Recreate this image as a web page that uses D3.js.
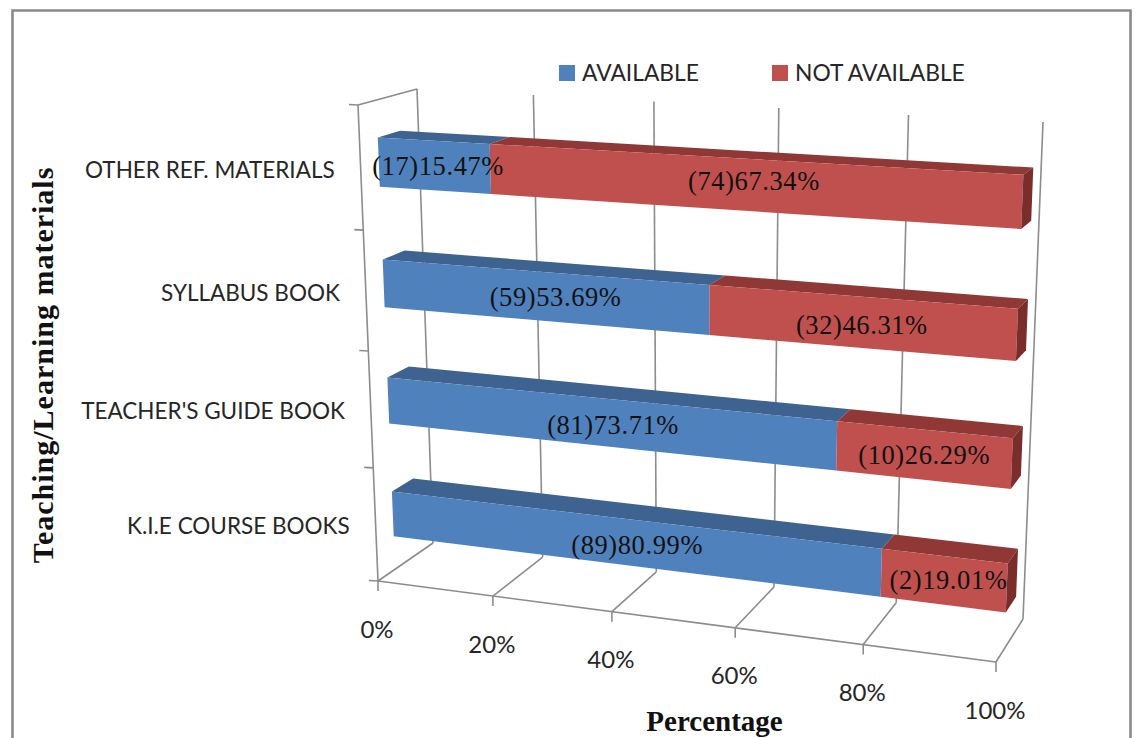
<!DOCTYPE html>
<html>
<head>
<meta charset="utf-8">
<script src="https://cdnjs.cloudflare.com/ajax/libs/d3/7.8.5/d3.min.js"></script>
<style>
  html, body { margin: 0; padding: 0; background: #fff; overflow: hidden; }
  svg { display: block; }
</style>
</head>
<body>
<script>
// Availability of teaching and learning materials, drawn as a 3-D 100% stacked bar chart.
const categories = ["OTHER REF. MATERIALS", "SYLLABUS BOOK", "TEACHER'S GUIDE BOOK", "K.I.E COURSE BOOKS"];
const seriesNames = ["AVAILABLE", "NOT AVAILABLE"];
const availablePct = [15.47, 53.69, 73.71, 80.99];
const notAvailablePct = [67.34, 46.31, 26.29, 19.01];
const availableCount = [17, 59, 81, 89];
const notAvailableCount = [74, 32, 10, 2];
const percentTicks = [0, 20, 40, 60, 80, 100];

const W = 1136, H = 738;
const svg = d3.select("body").append("svg").attr("width", W).attr("height", H);

const colors = {
  front: ["#4f81bd", "#c0504d"],
  top: ["#3e6390", "#8f3836"],
  end: ["#335477", "#7a2e2c"],
  grid: "#8c8c8c",
  text: "#262626"
};

// Corners of the plot cube on screen: [percent side][height][depth]
const cube = {
  l: { b: { f: [378, 581], k: [433, 543] }, t: { f: [358, 105], k: [417, 89] } },
  r: { b: { f: [996, 662], k: [1023, 619] }, t: { f: [1017, 139], k: [1043, 122] } }
};
const mix = (a, b, t) => [a[0] + (b[0] - a[0]) * t, a[1] + (b[1] - a[1]) * t];
// Foreshortening: equal steps shrink toward the viewer's far side
const foreshorten = (t, k) => t / (t + k * (1 - t));

const xScale = d3.scaleLinear().domain([0, 100]).range([0, 1]);
const yBand = d3.scaleBand().domain(categories).range([1, 0]).paddingInner(0.6).paddingOuter(0.3);
const depthFront = 0.31, depthBack = 0.69;

function project(pct, t, d) {
  const u = foreshorten(xScale(pct), 1.095);
  const v = foreshorten(t, 1.07);
  const left = mix(mix(cube.l.b.f, cube.l.b.k, d), mix(cube.l.t.f, cube.l.t.k, d), v);
  const right = mix(mix(cube.r.b.f, cube.r.b.k, d), mix(cube.r.t.f, cube.r.t.k, d), v);
  return mix(left, right, u);
}

const poly = pts => "M" + pts.map(p => p[0].toFixed(1) + "," + p[1].toFixed(1)).join("L") + "Z";
const seg = (a, b) => "M" + a[0].toFixed(1) + "," + a[1].toFixed(1) + "L" + b[0].toFixed(1) + "," + b[1].toFixed(1);

// Outer frame, open at the lower edge of the page
svg.append("path")
  .attr("d", `M12.5,${H}L12.5,10.5L1130.5,10.5L1130.5,${H}`)
  .attr("fill", "none").attr("stroke", "#8a8a8a").attr("stroke-width", 2.6);

// Walls and floor
const wall = svg.append("g").attr("fill", "none").attr("stroke", colors.grid).attr("stroke-width", 1.6);
percentTicks.forEach(p => {
  wall.append("path").attr("d", seg(project(p, 0, 1), project(p, 1, 1)));
  wall.append("path").attr("d", seg(project(p, 0, 0), project(p, 0, 1)));
  const f = project(p, 0, 0);
  wall.append("path").attr("d", seg(f, [f[0], f[1] + 10]));
});
wall.append("path").attr("d", seg(project(0, 0, 0), project(100, 0, 0)));
wall.append("path").attr("d", seg(project(0, 0, 0), project(0, 1, 0)));
wall.append("path").attr("d", seg(project(0, 1, 0), project(0, 1, 1)));
[0, 0.25, 0.5, 0.75, 1].forEach(t => {
  const p = project(0, t, 0);
  wall.append("path").attr("d", seg(p, [p[0] - 9, p[1] - 0.5]));
});

// Stacked bars, back row first so nearer rows overlap cleanly
const rows = categories.map((c, i) => {
  const total = availablePct[i] + notAvailablePct[i];
  const split = availablePct[i] / total * 100;
  return { c, i, t0: yBand(c), t1: yBand(c) + yBand.bandwidth(), spans: [[0, split], [split, 100]] };
});

const bars = svg.append("g");
rows.forEach(r => {
  r.spans.forEach((s, k) => {
    const g = bars.append("g");
    g.append("path").attr("fill", colors.top[k]).attr("d", poly([
      project(s[0], r.t1, depthFront), project(s[1], r.t1, depthFront),
      project(s[1], r.t1, depthBack), project(s[0], r.t1, depthBack)]));
    g.append("path").attr("fill", colors.front[k]).attr("d", poly([
      project(s[0], r.t0, depthFront), project(s[1], r.t0, depthFront),
      project(s[1], r.t1, depthFront), project(s[0], r.t1, depthFront)]));
    if (k === 1) {
      g.append("path").attr("fill", colors.end[k]).attr("d", poly([
        project(s[1], r.t0, depthFront), project(s[1], r.t0, depthBack),
        project(s[1], r.t1, depthBack), project(s[1], r.t1, depthFront)]));
    }
  });
});

// Count and percentage labels on the front faces
const labelNudge = [[[4, 0], [7.5, -4]], [[13, 1], [2, 3]], [[8, 2], [1, 0]], [[9, 3], [5, 0]]];
const labels = svg.append("g")
  .attr("font-family", "'Liberation Serif', serif").attr("font-size", 26.5).attr("letter-spacing", 0.6)
  .attr("fill", "#111").attr("text-anchor", "middle").attr("dominant-baseline", "central");
rows.forEach(r => {
  r.spans.forEach((s, k) => {
    const count = (k === 0 ? availableCount : notAvailableCount)[r.i];
    const pct = (k === 0 ? availablePct : notAvailablePct)[r.i];
    const m = project((s[0] + s[1]) / 2, (r.t0 + r.t1) / 2, depthFront);
    labels.append("text")
      .attr("x", m[0] + labelNudge[r.i][k][0]).attr("y", m[1] + labelNudge[r.i][k][1])
      .text(`(${count})${pct.toFixed(2)}%`);
  });
});

// Category labels beside the front wall
const catLabels = svg.append("g")
  .attr("font-family", "Lato, sans-serif").attr("font-size", 22.5)
  .attr("fill", colors.text).attr("text-anchor", "end").attr("dominant-baseline", "central");
categories.forEach(c => {
  const p = project(0, yBand(c) + yBand.bandwidth() / 2, 0);
  catLabels.append("text").attr("x", p[0] - 26).attr("y", p[1] + 1).text(c);
});

// Percent labels below the floor edge
const tickLabels = svg.append("g")
  .attr("font-family", "Lato, sans-serif").attr("font-size", 24)
  .attr("fill", colors.text).attr("text-anchor", "middle").attr("dominant-baseline", "central");
percentTicks.forEach(p => {
  const f = project(p, 0, 0);
  tickLabels.append("text").attr("x", f[0] - 1).attr("y", f[1] + 47).text(p + "%");
});

// Legend
const legendX = [559, 772];
seriesNames.forEach((name, k) => {
  svg.append("rect").attr("x", legendX[k]).attr("y", 65).attr("width", 16).attr("height", 16)
    .attr("fill", colors.front[k]);
  svg.append("text").attr("x", legendX[k] + 23).attr("y", 72)
    .attr("font-family", "Lato, sans-serif").attr("font-size", 22.8)
    .attr("fill", colors.text).attr("dominant-baseline", "central").text(name);
});

// Axis titles
svg.append("text").attr("x", 714.5).attr("y", 731)
  .attr("font-family", "'Liberation Serif', serif").attr("font-weight", "bold").attr("font-size", 29)
  .attr("fill", "#111").attr("text-anchor", "middle").text("Percentage");
svg.append("text").attr("transform", "translate(53,365) rotate(-90)")
  .attr("font-family", "'Liberation Serif', serif").attr("font-weight", "bold").attr("font-size", 30)
  .attr("letter-spacing", 1)
  .attr("fill", "#111").attr("text-anchor", "middle").text("Teaching/Learning materials");
</script>
</body>
</html>
